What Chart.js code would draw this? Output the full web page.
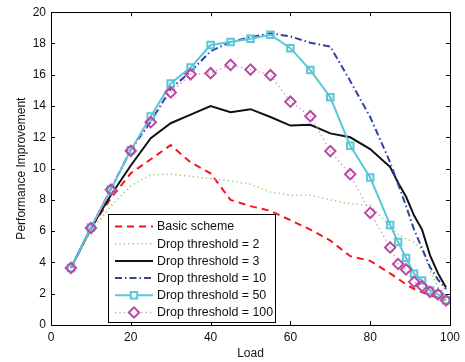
<!DOCTYPE html>
<html>
<head>
<meta charset="utf-8">
<script src="https://cdn.jsdelivr.net/npm/chart.js@4/dist/chart.umd.min.js"></script>
<style>
    body { margin: 0; background: #fff; }
    #wrap { width: 465px; height: 362px; }
</style>
</head>
<body>
<div id="wrap"><canvas id="perfChart" width="465" height="362"></canvas></div>
<script>
// Performance improvement vs load

const loads = [5, 10, 15, 20, 25, 30, 35, 40, 45, 50, 55, 60, 65, 70, 75, 80, 85, 87, 89, 91, 93, 95, 97, 99];

const basicScheme = [3.65, 6.2, 8.1, 9.7, 10.6, 11.5, 10.4, 9.7, 8.0, 7.6, 7.3, 6.7, 6.1, 5.4, 4.4, 4.1, 3.3, 2.95, 2.6, 2.3, 2.1, 1.9, 1.75, 1.6];
const drop2 = [3.65, 6.0, 7.6, 8.9, 9.6, 9.65, 9.5, 9.35, 9.2, 9.0, 8.5, 8.3, 8.3, 8.0, 7.75, 7.65, 6.3, 5.8, 5.5, 5.3, 4.8, 3.5, 2.4, 1.8];
const drop3 = [3.65, 6.2, 8.3, 10.2, 11.95, 12.9, 13.45, 14.0, 13.6, 13.8, 13.3, 12.75, 12.8, 12.25, 12.0, 11.25, 10.1, 9.1, 8.2, 7.0, 6.1, 4.45, 3.3, 2.4];
const drop10 = [3.65, 6.2, 8.7, 11.2, 13.0, 15.1, 16.2, 17.5, 18.1, 18.4, 18.65, 18.45, 18.05, 17.8, 15.6, 13.3, 10.4, 9.0, 7.6, 6.1, 4.9, 3.7, 2.9, 2.3];
const drop50 = [3.65, 6.23, 8.67, 11.18, 13.33, 15.44, 16.46, 17.9, 18.1, 18.3, 18.56, 17.7, 16.3, 14.56, 11.46, 9.43, 6.4, 5.3, 4.28, 3.27, 2.85, 2.2, 1.96, 1.58];
const drop100 = [3.65, 6.2, 8.65, 11.14, 12.97, 14.87, 16.03, 16.1, 16.63, 16.33, 15.97, 14.28, 13.35, 11.12, 9.64, 7.17, 4.96, 3.9, 3.55, 2.76, 2.48, 2.12, 1.96, 1.58];

const xTicks = [0, 20, 40, 60, 80, 100];
const yTicks = [0, 2, 4, 6, 8, 10, 12, 14, 16, 18, 20];

const FONT = 'Liberation Sans, Arial, Helvetica, sans-serif';

function toPoints(values) {
    return loads.map((x, i) => ({ x: x, y: values[i] }));
}

const seriesDefs = [
    { label: 'Basic scheme', data: basicScheme, color: '#f5141e', width: 2, dash: [7, 5], marker: false },
    { label: 'Drop threshold = 2', data: drop2, color: '#8fcf6e', width: 1.6, dash: [1.2, 3.2], marker: false },
    { label: 'Drop threshold = 3', data: drop3, color: '#111111', width: 2, dash: [], marker: false },
    { label: 'Drop threshold = 10', data: drop10, color: '#2e44a3', width: 2, dash: [7, 3, 1.5, 3], marker: false },
    { label: 'Drop threshold = 50', data: drop50, color: '#5ac6d6', width: 2, dash: [], marker: 'rect', markerColor: '#5ac6d6', radius: 4.6 },
    { label: 'Drop threshold = 100', data: drop100, color: '#d98acb', width: 1.5, dash: [1.2, 3.2], marker: 'rectRot', markerColor: '#b84aa2', radius: 5.2 }
];

const datasets = seriesDefs.map((s, i) => ({
    label: s.label,
    data: toPoints(s.data),
    borderColor: s.color,
    backgroundColor: s.color,
    borderWidth: s.width,
    borderDash: s.dash,
    tension: 0,
    fill: false,
    order: seriesDefs.length - i,
    pointStyle: s.marker || 'circle',
    pointRadius: s.marker ? s.radius : 0,
    pointBorderColor: s.markerColor || s.color,
    pointBackgroundColor: 'rgba(255,255,255,0)',
    pointBorderWidth: 2
}));

// MATLAB style box with inward ticks
const boxPlugin = {
    id: 'boxTicks',
    afterDraw(chart) {
        const { ctx, chartArea: a, scales } = chart;
        ctx.save();
        ctx.strokeStyle = '#000';
        ctx.lineWidth = 1;
        const len = 4;
        ctx.beginPath();
        xTicks.forEach(v => {
            const px = Math.round(scales.x.getPixelForValue(v)) + 0.5;
            ctx.moveTo(px, a.bottom); ctx.lineTo(px, a.bottom - len);
            ctx.moveTo(px, a.top); ctx.lineTo(px, a.top + len);
        });
        yTicks.forEach(v => {
            const py = Math.round(scales.y.getPixelForValue(v)) + 0.5;
            ctx.moveTo(a.left, py); ctx.lineTo(a.left + len, py);
            ctx.moveTo(a.right, py); ctx.lineTo(a.right - len, py);
        });
        ctx.stroke();
        ctx.strokeRect(Math.round(a.left) + 0.5, Math.round(a.top) + 0.5, Math.round(a.right - a.left), Math.round(a.bottom - a.top));
        ctx.restore();
    }
};

// legend box inside the plot, lower left
const legendPlugin = {
    id: 'boxLegend',
    afterDraw(chart) {
        const ctx = chart.ctx;
        const left = 108.5, top = 214.5, w = 167, h = 108;
        ctx.save();
        ctx.fillStyle = '#fff';
        ctx.fillRect(left, top, w, h);
        ctx.strokeStyle = '#000';
        ctx.lineWidth = 1;
        ctx.strokeRect(left, top, w, h);
        ctx.textBaseline = 'middle';
        seriesDefs.forEach((s, i) => {
            const y = 226.5 + i * 17.2;
            ctx.beginPath();
            ctx.setLineDash(s.dash);
            ctx.strokeStyle = s.color;
            ctx.lineWidth = s.width;
            ctx.moveTo(115, y);
            ctx.lineTo(153, y);
            ctx.stroke();
            ctx.setLineDash([]);
            if (s.marker) {
                ctx.fillStyle = '#fff';
                ctx.strokeStyle = s.markerColor;
                ctx.lineWidth = 2;
                Chart.helpers.drawPoint(ctx, {
                    pointStyle: s.marker,
                    radius: s.radius,
                    borderWidth: 2,
                    rotation: 0
                }, 134, y);
            }
            ctx.font = '12.4px ' + FONT;
            ctx.fillStyle = '#111';
            ctx.fillText(s.label, 157, y + 0.5);
        });
        ctx.restore();
    }
};

new Chart(document.getElementById('perfChart'), {
    type: 'line',
    data: { datasets: datasets },
    plugins: [boxPlugin, legendPlugin],
    options: {
        responsive: false,
        animation: false,
        layout: { padding: { top: 9, right: 13, left: 0, bottom: 0 } },
        plugins: {
            legend: { display: false },
            tooltip: { enabled: false }
        },
        scales: {
            x: {
                type: 'linear',
                min: 0,
                max: 100,
                afterFit: (scale) => { scale.height = 37; },
                afterBuildTicks: (scale) => { scale.ticks = xTicks.map(v => ({ value: v })); },
                grid: { display: false, drawTicks: false },
                border: { display: false },
                ticks: { color: '#111', padding: 5, maxRotation: 0, font: { family: FONT, size: 12 } },
                title: { display: true, text: 'Load', color: '#111', padding: { top: 0, bottom: 1 }, font: { family: FONT, size: 12 } }
            },
            y: {
                min: 0,
                max: 20,
                afterFit: (scale) => { scale.width = 51; },
                afterBuildTicks: (scale) => { scale.ticks = yTicks.map(v => ({ value: v })); },
                grid: { display: false, drawTicks: false },
                border: { display: false },
                ticks: { color: '#111', padding: 5, font: { family: FONT, size: 12 } },
                title: { display: true, text: 'Performance Improvement', color: '#111', padding: { top: 14, bottom: 0 }, font: { family: FONT, size: 12 } }
            }
        }
    }
});
</script>
</body>
</html>
